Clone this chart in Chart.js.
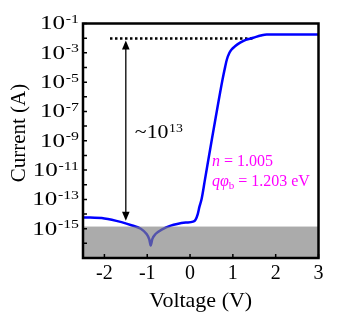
<!DOCTYPE html>
<html>
<head>
<meta charset="utf-8">
<script src="https://cdn.jsdelivr.net/npm/chart.js@4.4.0/dist/chart.umd.min.js"></script>
<style>
html, body { margin: 0; padding: 0; background: #fff; }
#wrap { width: 345px; height: 325px; }
</style>
</head>
<body>
<div id="wrap"><canvas id="ivChart"></canvas></div>
<script>
// I-V sweep (voltage in V, current in A)
const VOLTAGE = [-2.5, -2.0, -1.6, -1.35, -1.15, -1.02, -0.95, -0.92, -0.88, -0.8, -0.65, -0.45, -0.3, -0.1, 0.07,
    0.13, 0.18, 0.22, 0.27, 0.35, 0.51, 0.6, 0.76, 0.82, 0.86, 0.92, 0.97, 1.05, 1.17, 1.3, 1.48, 1.65, 1.79, 2.0, 2.5, 3.0];
const CURRENT = [5.9e-15, 5.0e-15, 2.8e-15, 1.66e-15, 1.0e-15, 4.5e-16, 1.8e-16, 7e-17, 2.0e-16, 4.5e-16, 8.9e-16, 1.6e-15, 2.1e-15, 2.6e-15, 3.0e-15,
    4.2e-15, 1e-14, 3.2e-14, 1.05e-13, 2.4e-12, 1.26e-9, 4e-8, 1.55e-5, 1.1e-4, 3.5e-4, 1e-3, 1.7e-3, 2.8e-3, 4.9e-3, 7.6e-3, 1.07e-2, 1.5e-2, 1.78e-2, 1.78e-2, 1.78e-2, 1.78e-2];

// saturation reference (dotted)
const PLATEAU_V = [-1.87, 1.47];
const PLATEAU_I = [9.5e-3, 9.5e-3];

// on/off ratio arrow
const ARROW_V = -1.5;
const ARROW_I = [6.9e-3, 3.5e-15];
const RATIO_EXP = '13';

// measurement floor band
const FLOOR_I = 1.4e-15;

// fit results
const FIT_N = '1.005';
const FIT_PHI = '1.203 eV';

const X_TICKS = [-2, -1, 0, 1, 2, 3];
const Y_DECADES = [-17, -16, -15, -14, -13, -12, -11, -10, -9, -8, -7, -6, -5, -4, -3, -2, -1];
const Y_LABELS = [-1, -3, -5, -7, -9, -11, -13, -15];

const serif = '"Liberation Serif", "Times New Roman", serif';
Chart.defaults.font.family = serif;
Chart.defaults.color = '#000';

// draws "10" with a raised exponent, right edge at rx, squeezed/stretched by sx
function drawPow(ctx, exp, rx, py, sx, big, small) {
    ctx.save();
    ctx.translate(rx, py);
    ctx.scale(sx, 1);
    ctx.font = small + 'px ' + serif;
    const w = ctx.measureText(exp).width;
    ctx.textAlign = 'left';
    ctx.textBaseline = 'alphabetic';
    ctx.fillText(exp, -w, -0.5);
    ctx.font = big + 'px ' + serif;
    ctx.textAlign = 'right';
    ctx.textBaseline = 'middle';
    ctx.fillText('10', -w - 0.5, 1);
    ctx.restore();
}

const decorPlugin = {
    id: 'decor',
    afterDatasetsDraw: function(chart) {
        const ctx = chart.ctx;
        const a = chart.chartArea;
        const x = chart.scales.x, y = chart.scales.y;
        ctx.save();

        // arrow
        const ax = x.getPixelForValue(ARROW_V);
        const y1 = y.getPixelForValue(ARROW_I[0]);
        const y2 = y.getPixelForValue(ARROW_I[1]);
        ctx.strokeStyle = '#000';
        ctx.fillStyle = '#000';
        ctx.lineWidth = 1.3;
        ctx.beginPath();
        ctx.moveTo(ax, y1 + 6);
        ctx.lineTo(ax, y2 - 6);
        ctx.stroke();
        ctx.beginPath();
        ctx.moveTo(ax, y1); ctx.lineTo(ax - 3.8, y1 + 9); ctx.lineTo(ax + 3.8, y1 + 9);
        ctx.closePath(); ctx.fill();
        ctx.beginPath();
        ctx.moveTo(ax, y2); ctx.lineTo(ax - 3.8, y2 - 9); ctx.lineTo(ax + 3.8, y2 - 9);
        ctx.closePath(); ctx.fill();

        // gray floor
        const yf = y.getPixelForValue(FLOOR_I);
        ctx.fillStyle = 'rgba(128,128,128,0.66)';
        ctx.fillRect(a.left, yf, a.right - a.left, a.bottom - yf);

        // inner ticks
        ctx.strokeStyle = '#000';
        ctx.lineWidth = 1.5;
        ctx.beginPath();
        Y_DECADES.forEach(function(d) {
            const py = y.getPixelForValue(Math.pow(10, d));
            ctx.moveTo(a.left, py);
            ctx.lineTo(a.left + 4, py);
        });
        X_TICKS.forEach(function(v) {
            const px = x.getPixelForValue(v);
            ctx.moveTo(px, a.bottom);
            ctx.lineTo(px, a.bottom - 4);
        });
        ctx.stroke();

        // frame
        ctx.lineWidth = 2.5;
        ctx.strokeRect(a.left, a.top, a.right - a.left, a.bottom - a.top);

        // y tick labels 10^n
        ctx.fillStyle = '#000';
        Y_LABELS.forEach(function(e) {
            const py = y.getPixelForValue(Math.pow(10, e));
            drawPow(ctx, '-' + Math.abs(e), 79, py, 1.32, 19, 12);
        });

        // y title
        ctx.save();
        ctx.translate(19, 133);
        ctx.rotate(-Math.PI / 2);
        ctx.font = '21px ' + serif;
        ctx.textAlign = 'center';
        ctx.textBaseline = 'middle';
        ctx.fillText('Current (A)', 0, 0);
        ctx.restore();

        // ~10^13 label
        const tx = x.getPixelForValue(-1.29);
        const ty = y.getPixelForValue(3.8e-9);
        ctx.save();
        ctx.translate(tx, ty);
        ctx.scale(1.15, 1);
        ctx.font = '19px ' + serif;
        ctx.textAlign = 'left';
        ctx.textBaseline = 'middle';
        ctx.fillText('~10', 0, 1);
        const tw = ctx.measureText('~10').width;
        ctx.font = '12px ' + serif;
        ctx.textBaseline = 'alphabetic';
        ctx.fillText(RATIO_EXP, tw + 0.5, -0.5);
        ctx.restore();

        // fit annotation (magenta)
        ctx.fillStyle = '#ff00ff';
        ctx.textAlign = 'left';
        ctx.textBaseline = 'middle';
        const fx = x.getPixelForValue(0.51);
        const fy1 = y.getPixelForValue(3.5e-11);
        const fy2 = y.getPixelForValue(1.5e-12);
        let cx = fx;
        ctx.font = 'italic 16px ' + serif;
        ctx.fillText('n', cx, fy1);
        cx += ctx.measureText('n').width;
        ctx.font = '16px ' + serif;
        ctx.fillText(' = ' + FIT_N, cx, fy1);

        cx = fx;
        ctx.font = 'italic 16px ' + serif;
        ctx.fillText('q\u03c6', cx, fy2);
        cx += ctx.measureText('q\u03c6').width;
        ctx.font = '11px ' + serif;
        ctx.fillText('b', cx, fy2 + 4);
        cx += ctx.measureText('b').width;
        ctx.font = '16px ' + serif;
        ctx.fillText(' = ' + FIT_PHI, cx, fy2);

        ctx.restore();
    }
};

const curve = VOLTAGE.map(function(v, i) { return { x: v, y: CURRENT[i] }; });
const plateau = PLATEAU_V.map(function(v, i) { return { x: v, y: PLATEAU_I[i] }; });

new Chart(document.getElementById('ivChart').getContext('2d'), {
    type: 'line',
    data: {
        datasets: [{
            data: curve,
            borderColor: '#0000ff',
            borderWidth: 2.5,
            pointRadius: 0,
            cubicInterpolationMode: 'monotone'
        }, {
            data: plateau,
            borderColor: '#000',
            borderWidth: 2.5,
            borderDash: [2.5, 2.5],
            pointRadius: 0
        }]
    },
    options: {
        responsive: true,
        maintainAspectRatio: false,
        animation: false,
        layout: { padding: { top: 23.5, right: 26.5, bottom: 0, left: 0 } },
        plugins: {
            legend: { display: false },
            tooltip: { enabled: false }
        },
        scales: {
            x: {
                type: 'linear',
                min: -2.5,
                max: 3,
                grid: { display: false, drawTicks: false },
                border: { display: false },
                ticks: { font: { size: 20 }, color: '#000', padding: 4 },
                afterBuildTicks: function(scale) {
                    scale.ticks = X_TICKS.map(function(v) { return { value: v }; });
                },
                afterFit: function(scale) { scale.height = 67; },
                title: {
                    display: true,
                    text: 'Voltage (V)',
                    font: { size: 22 },
                    color: '#000',
                    padding: { top: 0, bottom: 11 }
                }
            },
            y: {
                type: 'logarithmic',
                min: 1e-17,
                max: 1e-1,
                grid: { display: false, drawTicks: false },
                border: { display: false },
                ticks: { display: false },
                afterBuildTicks: function(scale) {
                    scale.ticks = Y_DECADES.map(function(d) { return { value: Math.pow(10, d) }; });
                },
                afterFit: function(scale) { scale.width = 83; }
            }
        }
    },
    plugins: [decorPlugin]
});
</script>
</body>
</html>
